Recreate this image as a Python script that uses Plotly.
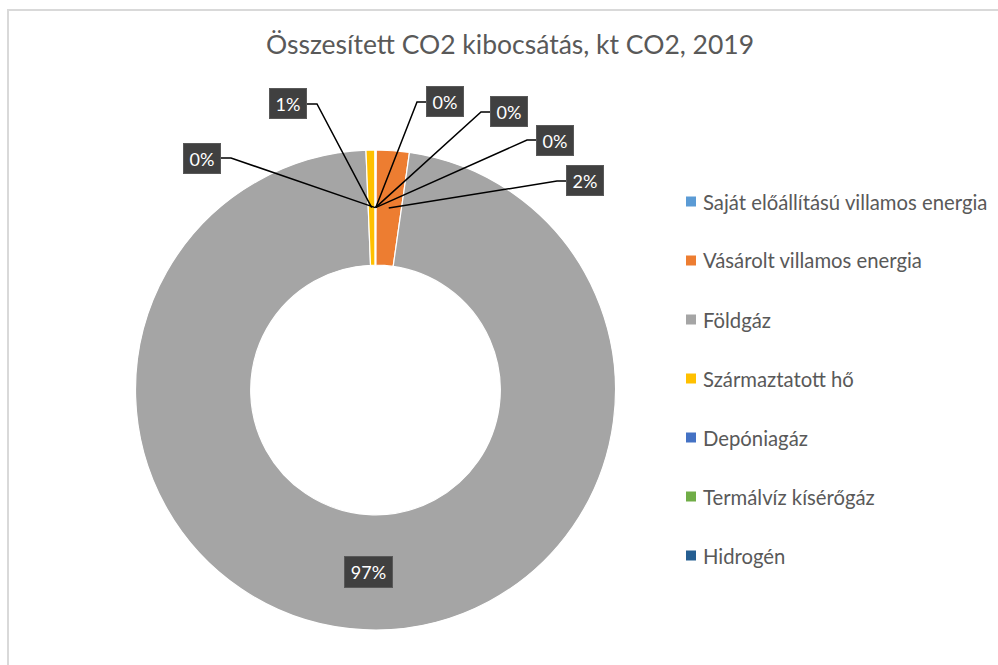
import math
import plotly.graph_objects as go

# ---------------- data ----------------
title_text = "Összesített CO2 kibocsátás, kt CO2, 2019"
categories = [
    "Saját előállítású villamos energia",
    "Vásárolt villamos energia",
    "Földgáz",
    "Származtatott hő",
    "Depóniagáz",
    "Termálvíz kísérőgáz",
    "Hidrogén",
]
values = [0.05, 2.2, 96.6, 0.6, 0.02, 0.01, 0.0]
colors = ["#5B9BD5", "#ED7D31", "#A5A5A5", "#FFC000", "#4472C4", "#70AD47", "#255E91"]

# ---------------- layout constants (pixels) ----------------
W, H = 998, 665
CX, CY, R = 375.5, 390.0, 240.0
HOLE = 0.52
FONT = "Lato"
TEXT_COLOR = "#595959"

# label box centres (Excel placement)
label_pos = {
    "Saját előállítású villamos energia": (445, 102),
    "Vásárolt villamos energia": (585, 181),
    "Földgáz": (368, 572),
    "Származtatott hő": (288, 104),
    "Depóniagáz": (202, 158),
    "Termálvíz kísérőgáz": (509, 112),
    "Hidrogén": (555, 140),
}
BOX_W, BOX_H = 38, 31


def px(x):
    return x / W


def py(y):
    return 1 - y / H


fig = go.Figure()
fig.add_trace(go.Pie(
    labels=categories,
    values=values,
    hole=HOLE,
    sort=False,
    direction="clockwise",
    rotation=0,
    textinfo="none",
    marker=dict(colors=colors, line=dict(color="white", width=1.2)),
    domain=dict(x=[px(CX - R), px(CX + R)], y=[py(CY + R), py(CY - R)]),
    showlegend=False,
    hoverinfo="label+value+percent",
))

shapes = []
annotations = []

# chart-area border
shapes.append(dict(type="rect", xref="paper", yref="paper",
                   x0=px(8), y0=py(10), x1=px(W + 20), y1=py(H + 20),
                   line=dict(color="#D9D9D9", width=2), fillcolor="rgba(0,0,0,0)"))

# data labels with leader lines
total = sum(values)
cum = 0.0
r_mid = R * (1 + HOLE) / 2
for cat, v in zip(categories, values):
    frac_mid = (cum + v / 2) / total
    cum += v
    theta = 2 * math.pi * frac_mid
    ax = CX + r_mid * math.sin(theta)
    ay = CY - r_mid * math.cos(theta)
    pct = round(100 * v / total)
    lx, ly = label_pos[cat]
    bw = BOX_W if pct < 10 else 49
    bh = BOX_H if pct < 10 else 32
    if cat != "Földgáz":
        if lx < ax:
            x_start = lx + bw / 2
            x_elbow = x_start + 10
        else:
            x_start = lx - bw / 2
            x_elbow = x_start - 9
        path = "M {} {} L {} {} L {} {}".format(
            px(x_start), py(ly), px(x_elbow), py(ly), px(ax), py(ay))
        shapes.append(dict(type="path", xref="paper", yref="paper", path=path,
                           line=dict(color="black", width=1.5)))
    annotations.append(dict(
        xref="paper", yref="paper", x=px(lx), y=py(ly),
        xanchor="center", yanchor="middle", showarrow=False,
        text=f"{pct}%", width=bw - 2, height=bh - 2,
        bgcolor="#404040", bordercolor="#595959", borderwidth=1, borderpad=0,
        font=dict(family=FONT, size=18, color="white"),
    ))

# custom legend
LEG_X, LEG_Y0, LEG_DY, SQ = 686, 201.5, 59.0, 10
for i, (cat, col) in enumerate(zip(categories, colors)):
    yc = LEG_Y0 + i * LEG_DY
    shapes.append(dict(type="rect", xref="paper", yref="paper",
                       x0=px(LEG_X), x1=px(LEG_X + SQ),
                       y0=py(yc - SQ / 2), y1=py(yc + SQ / 2),
                       fillcolor=col, line=dict(width=0)))
    annotations.append(dict(
        xref="paper", yref="paper", x=px(LEG_X + SQ + 5), y=py(yc),
        xanchor="left", yanchor="middle", showarrow=False, text=cat,
        font=dict(family=FONT, size=20.3, color=TEXT_COLOR),
    ))

fig.update_layout(
    width=W, height=H,
    margin=dict(l=0, r=0, t=0, b=0),
    paper_bgcolor="white", plot_bgcolor="white",
    title=dict(text=title_text, x=px(510), y=py(45), xanchor="center", yanchor="middle",
               font=dict(family=FONT, size=26.5, color=TEXT_COLOR)),
    shapes=shapes,
    annotations=annotations,
    showlegend=False,
)

fig.write_html("out.html", post_script="document.body.style.margin='0';",
               config={"displayModeBar": False})
